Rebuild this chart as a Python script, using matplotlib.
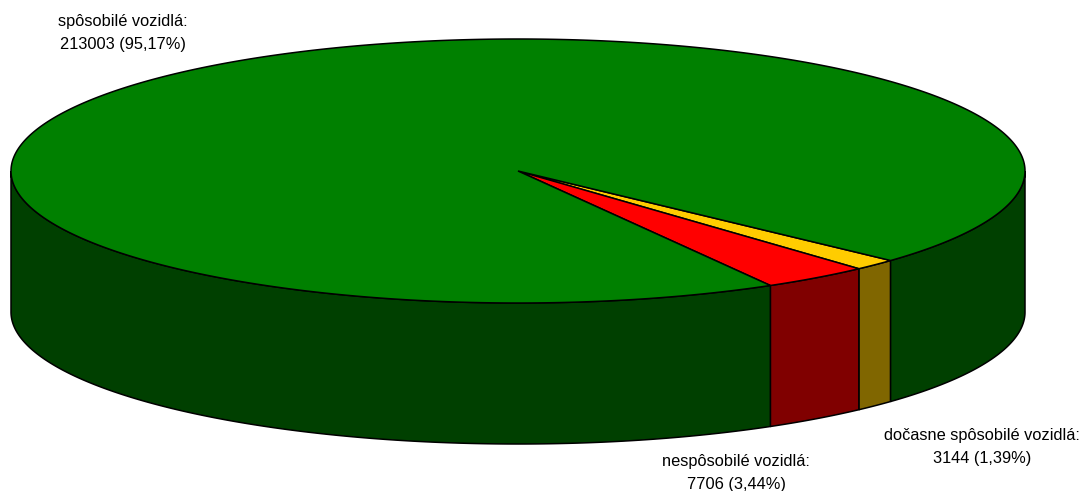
import numpy as np
import matplotlib
matplotlib.use('Agg')
import matplotlib.pyplot as plt
from matplotlib.patches import Polygon

plt.rcParams['font.family'] = ['Liberation Sans', 'DejaVu Sans']

# Data
labels = ['dočasne spôsobilé vozidlá:\n3144 (1,39%)',
          'nespôsobilé vozidlá:\n7706 (3,44%)',
          'spôsobilé vozidlá:\n213003 (95,17%)']
values = [3144, 7706, 213003]
top_colors = ['#FFCC00', '#FF0000', '#008000']
side_colors = ['#806600', '#800000', '#004000']
label_pos = [(982, 447), (736, 473), (123, 33)]

# Pie geometry in pixels
cx, cy = 518, 171
rx, ry = 507, 132
depth = 141
start = 42.7  # degrees clockwise on screen from the right


def rim(a, b):
    t = np.radians(np.linspace(a, b, max(int(abs(b - a) * 4), 2)))
    return np.column_stack([cx + rx * np.cos(t), cy + ry * np.sin(t)])


fig = plt.figure(figsize=(10.83, 4.91), dpi=100)
ax = fig.add_axes([0, 0, 1, 1])
ax.set_xlim(0, 1083)
ax.set_ylim(491, 0)
ax.axis('off')

angles = start + np.cumsum([0] + values) / sum(values) * 360

# Walls: only the front half of the rim shows
wall_spans = []
for i in range(3):
    a, b = angles[i], angles[i + 1]
    wall_spans.append((a, min(b, 180), side_colors[i]))
wall_spans.append((0, start, side_colors[2]))  # rest of the big slice

for a, b, col in wall_spans:
    edge = rim(a, b)
    low = edge[::-1] + [0, depth]
    ax.add_patch(Polygon(np.vstack([edge, low]), closed=True, facecolor=col,
                         edgecolor='black', lw=1.1, zorder=2))

# Top face
for i in range(3):
    pts = np.vstack([[cx, cy], rim(angles[i], angles[i + 1])])
    ax.add_patch(Polygon(pts, closed=True, facecolor=top_colors[i],
                         edgecolor='black', lw=1.1, zorder=3))

for (x, y), s in zip(label_pos, labels):
    ax.text(x, y, s, ha='center', va='center', fontsize=11.75,
            color='black', linespacing=1.6, zorder=4)

fig.savefig('out.png', dpi=100)
